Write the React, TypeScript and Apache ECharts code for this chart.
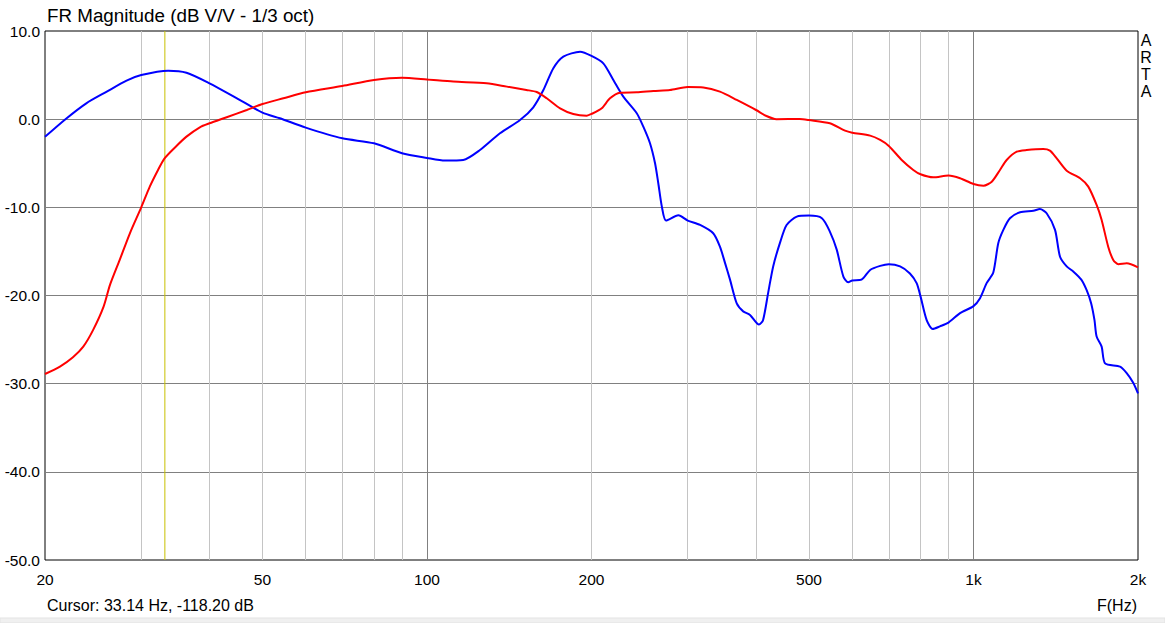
import React, { useEffect, useRef } from "react";
import * as echarts from "echarts";

// ---- data ----
const blueFreq = [
  20, 21.8, 23.8, 25.9, 28.2, 30, 33.6, 36.3, 40, 44.9, 50, 53.8, 60, 70, 80, 90, 100,
  107.9, 116.5, 125, 136, 148, 156.5, 163.3, 170.3, 177.6, 190.6, 200, 210.2, 219.3,
  228.7, 242, 248.8, 255.9, 261.4, 265, 269, 273.8, 288.4, 300, 316, 334, 343.6, 351,
  358.5, 368.8, 379, 390, 405, 412, 421, 430, 442.6, 455, 475, 500, 528, 546, 562, 578,
  590, 600, 624, 647, 675, 700, 734, 765, 787, 800, 821, 842, 868, 900, 945, 1000, 1028,
  1057, 1087, 1110, 1134, 1166, 1217, 1287, 1323, 1361, 1410, 1440, 1481, 1524, 1575,
  1611, 1642, 1665, 1680, 1716, 1741, 1854, 1907, 1960, 2000,
];
const blueDb = [
  -2.0, 0.0, 1.8, 3.1, 4.37, 5.0, 5.5, 5.27, 4.07, 2.37, 0.74, 0.1, -0.96, -2.17, -2.74,
  -3.87, -4.4, -4.7, -4.63, -3.5, -1.6, -0.1, 1.35, 3.3, 5.77, 7.09, 7.65, 7.17, 6.33,
  4.44, 2.55, 0.67, -0.85, -2.73, -5.0, -7.27, -9.92, -11.5, -10.9, -11.5, -12.0, -12.94,
  -14.46, -16.3, -18.2, -20.9, -21.8, -22.2, -23.3, -22.8, -19.7, -16.7, -14.0, -12.0,
  -11.05, -10.94, -11.24, -12.75, -14.8, -17.85, -18.5, -18.3, -18.2, -17.1, -16.64,
  -16.45, -16.7, -17.5, -18.6, -20.1, -22.8, -23.8, -23.5, -23.07, -22.0, -21.2, -20.3,
  -18.6, -17.4, -14.07, -12.56, -11.24, -10.56, -10.4, -10.2, -10.67, -12.56, -15.6,
  -16.7, -17.3, -18.2, -19.4, -20.9, -22.8, -24.66, -25.8, -27.7, -28.06, -28.8, -29.9,
  -31.1,
];

const redFreq = [
  20, 21.3, 22.5, 23.5, 24.5, 25.6, 26.3, 27.4, 28.6, 30, 31.1, 32.2, 33.1,
  34.8, 36.3, 38.4, 40, 43, 46.8, 50, 54.6, 60, 70, 80, 90, 100, 111.7, 128.6, 140, 152,
  158.8, 165.6, 175.2, 185.2, 196, 200, 208.8, 216.2, 225.6, 242, 259.6, 278.4, 300,
  320.4, 343.6, 368.8, 400, 418, 436, 481, 500, 546, 582, 600, 647, 675, 700, 739, 776,
  800, 844, 900, 945, 1000, 1043, 1080, 1118, 1150, 1200, 1251, 1342, 1380, 1420, 1481,
  1567, 1622, 1680, 1716, 1764, 1802, 1841, 1907, 2000,
];
const redDb = [
  -28.9, -28.06, -27.0, -25.8, -23.9, -21.26, -18.8, -15.96, -12.94, -10.0,
  -7.65, -5.76, -4.44, -3.04, -1.98, -0.92, -0.47, 0.22, 1.04, 1.72, 2.37, 3.05, 3.76,
  4.44, 4.7, 4.5, 4.26, 4.07, 3.69, 3.31, 3.08, 2.37, 1.23, 0.59, 0.4, 0.59, 1.23, 2.37,
  3.0, 3.05, 3.2, 3.31, 3.65, 3.6, 3.12, 2.18, 1.04, 0.36, 0.0, 0.02, -0.1, -0.47, -1.3,
  -1.53, -1.87, -2.36, -3.04, -4.63, -5.76, -6.25, -6.6, -6.4, -6.7, -7.35, -7.54, -7.09,
  -5.76, -4.63, -3.69, -3.5, -3.38, -3.57, -4.44, -5.84, -6.7, -7.65, -9.73, -11.43,
  -14.46, -15.96, -16.45, -16.34, -16.8,
];

const xLabelValues = [20, 50, 100, 200, 500, 1000, 2000];
const xMinorGrid = [30, 40, 50, 60, 70, 80, 90, 200, 300, 400, 500, 600, 700, 800, 900];
const xMajorGrid = [100, 1000];
const cursorFreq = 33.14;
const yMin = -50;
const yMax = 10;
const yStep = 10;
const titleText = "FR Magnitude (dB V/V - 1/3 oct)";
const cursorText = "Cursor: 33.14 Hz, -118.20 dB";
const xAxisTitle = "F(Hz)";
const brandText = "A\nR\nT\nA";

const FONT = "'Liberation Sans', Arial, sans-serif";

function zip(xs: number[], ys: number[]) {
  return xs.map((x, i) => [x, ys[i]]);
}

function fmtFreq(v: number) {
  return v >= 1000 ? `${Math.round(v / 1000)}k` : `${Math.round(v)}`;
}

export default function App() {
  const ref = useRef<HTMLDivElement>(null);

  useEffect(() => {
    if (!ref.current) return;
    const chart = echarts.init(ref.current, null, { renderer: "svg" });
    const option: any = {
      animation: false,
      backgroundColor: "#ffffff",
      title: {
        text: titleText,
        left: 47,
        top: 6,
        padding: 0,
        textStyle: { fontSize: 18.8, fontWeight: "normal", color: "#000", fontFamily: FONT },
      },
      grid: {
        left: 45,
        top: 31,
        width: 1093,
        height: 529,
        show: true,
        borderColor: "#000",
        borderWidth: 1,
        backgroundColor: "#fff",
        containLabel: false,
      },
      xAxis: [
        {
          type: "log",
          logBase: 10,
          min: 20,
          max: 2000,
          position: "bottom",
          axisLine: { show: false },
          axisTick: { show: false, customValues: xMinorGrid },
          axisLabel: {
            show: true,
            customValues: xLabelValues,
            formatter: (v: number) => fmtFreq(v),
            color: "#000",
            fontSize: 15.5,
            fontFamily: FONT,
            margin: 11,
            showMinLabel: true,
            showMaxLabel: true,
          },
          splitLine: {
            show: true,
            lineStyle: { color: "#c4c4c4", width: 1, type: "solid" },
          },
        },
        {
          type: "log",
          logBase: 10,
          min: 20,
          max: 2000,
          position: "top",
          axisLine: { show: false },
          axisTick: { show: false, customValues: xMajorGrid },
          axisLabel: { show: false },
          splitLine: {
            show: true,
            lineStyle: { color: "#808080", width: 1, type: "solid" },
          },
        },
      ],
      yAxis: {
        type: "value",
        min: yMin,
        max: yMax,
        interval: yStep,
        axisLine: { show: false },
        axisTick: { show: false },
        axisLabel: {
          formatter: (v: number) => v.toFixed(1),
          color: "#000",
          fontSize: 15.5,
          fontFamily: FONT,
          margin: 5,
        },
        splitLine: {
          show: true,
          showMinLine: false,
          showMaxLine: false,
          lineStyle: { color: "#808080", width: 1 },
        },
      },
      series: [
        {
          type: "line",
          name: "cursor",
          xAxisIndex: 0,
          data: [
            [cursorFreq, yMin],
            [cursorFreq, yMax],
          ],
          showSymbol: false,
          symbol: "none",
          silent: true,
          lineStyle: { color: "#c8c000", width: 1 },
          z: 1,
        },
        {
          type: "line",
          name: "blue",
          xAxisIndex: 0,
          data: zip(blueFreq, blueDb),
          showSymbol: false,
          symbol: "none",
          smooth: 0.25,
          lineStyle: { color: "#0000ff", width: 2 },
          z: 3,
        },
        {
          type: "line",
          name: "red",
          xAxisIndex: 0,
          data: zip(redFreq, redDb),
          showSymbol: false,
          symbol: "none",
          smooth: 0.25,
          lineStyle: { color: "#ff0000", width: 2 },
          z: 4,
        },
      ],
      graphic: [
        {
          type: "text",
          left: 47,
          top: 597,
          style: { text: cursorText, fontSize: 16, fontFamily: FONT, fill: "#000" },
        },
        {
          type: "text",
          right: 28,
          top: 597,
          style: { text: xAxisTitle, fontSize: 16, fontFamily: FONT, fill: "#000" },
        },
        {
          type: "text",
          x: 1146,
          y: 32,
          style: {
            text: brandText,
            fontSize: 16,
            lineHeight: 17,
            fontFamily: FONT,
            fill: "#000",
            align: "center",
            verticalAlign: "top",
          },
        },
        {
          type: "rect",
          shape: { x: 0, y: 618, width: 1165, height: 5 },
          style: { fill: "#f0f0f0", stroke: "#e3e3e3", lineWidth: 1 },
          silent: true,
        },
      ],
    };
    chart.setOption(option);
    return () => chart.dispose();
  }, []);

  return (
    <div
      ref={ref}
      style={{ position: "fixed", left: 0, top: 0, width: 1165, height: 623 }}
    />
  );
}
